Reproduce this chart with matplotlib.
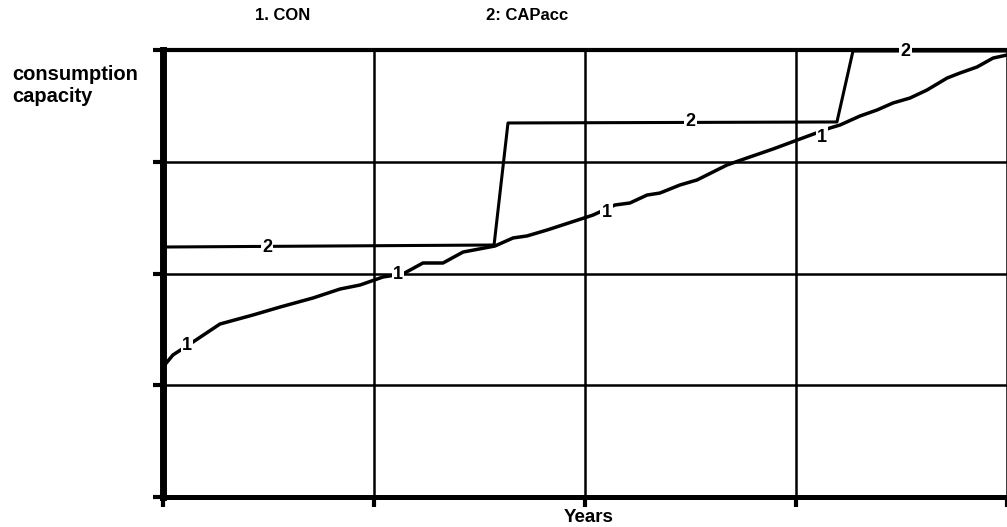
import matplotlib
matplotlib.use("Agg")
import matplotlib.pyplot as plt

plt.rcParams['font.family'] = ['Liberation Sans', 'DejaVu Sans']

# DATA (x in years from 0 to 4, y in grid units from 0 to 4)
con_x = [0.0, 0.047, 0.142, 0.270, 0.427, 0.555, 0.711, 0.839, 0.934, 1.043,
         1.137, 1.232, 1.327, 1.422, 1.573, 1.659, 1.725, 1.820, 2.038,
         2.142, 2.213, 2.294, 2.355, 2.450, 2.531, 2.673, 2.768, 2.891, 3.057,
         3.161, 3.209, 3.303, 3.384, 3.460, 3.540, 3.621, 3.716, 3.777, 3.858,
         3.934, 4.0]
con_y = [1.163, 1.271, 1.387, 1.548, 1.629, 1.700, 1.781, 1.861, 1.897, 1.969,
         1.996, 2.094, 2.094, 2.192, 2.246, 2.318, 2.336, 2.389, 2.523,
         2.613, 2.631, 2.702, 2.720, 2.792, 2.837, 2.971, 3.034, 3.114, 3.230,
         3.302, 3.329, 3.409, 3.463, 3.526, 3.570, 3.642, 3.749, 3.794, 3.848,
         3.928, 3.955]

cap_x = [0.0, 1.569, 1.635, 3.194, 3.270, 4.0]
cap_y = [2.237, 2.255, 3.347, 3.356, 3.991, 3.991]

con_lab_x = [0.114, 1.114, 2.104, 3.123]
con_lab_y = [1.360, 1.987, 2.550, 3.221]
cap_lab_x = [0.493, 2.498, 3.517]
cap_lab_y = [2.237, 3.356, 3.991]

W, H = 1007, 527
fig = plt.figure(figsize=(W / 100, H / 100), dpi=100)
ax = fig.add_axes([163 / W, 30 / H, (W - 163) / W, 447 / H])

ax.set_xlim(0, 4)
ax.set_ylim(0, 4)
ax.set_xticks([0, 1, 2, 3, 4])
ax.set_yticks([0, 1, 2, 3, 4])
ax.set_xticklabels([])
ax.set_yticklabels([])
ax.tick_params(direction='out', length=7, width=3, color='black')
ax.grid(True, color='black', linewidth=1.8)

ax.spines['right'].set_visible(False)
ax.spines['left'].set_linewidth(5)
ax.spines['bottom'].set_linewidth(3.6)
ax.spines['top'].set_linewidth(3.0)

ax.plot(con_x, con_y, color='black', linewidth=2.5, zorder=3)
ax.plot(cap_x, cap_y, color='black', linewidth=2.2, zorder=3, clip_on=False)

for x, y in zip(con_lab_x, con_lab_y):
    ax.text(x, y, '1', ha='center', va='center', fontsize=13, fontweight='bold',
            zorder=4, bbox=dict(facecolor='white', edgecolor='none', pad=1.0))
for x, y in zip(cap_lab_x, cap_lab_y):
    ax.text(x, y, '2', ha='center', va='center', fontsize=13, fontweight='bold',
            zorder=4, clip_on=False,
            bbox=dict(facecolor='white', edgecolor='none', pad=1.0))

fig.text(283 / W, 1 - 15 / H, '1. CON', ha='center', va='center', fontsize=12, fontweight='bold')
fig.text(527 / W, 1 - 15 / H, '2: CAPacc', ha='center', va='center', fontsize=12, fontweight='bold')
fig.text(12 / W, 1 - 75 / H, 'consumption', ha='left', va='center', fontsize=14.5, fontweight='bold')
fig.text(12 / W, 1 - 97 / H, 'capacity', ha='left', va='center', fontsize=14.5, fontweight='bold')
fig.text(589 / W, 1 - 517 / H, 'Years', ha='center', va='center', fontsize=13.5, fontweight='bold')

fig.savefig('out.png', dpi=100)
